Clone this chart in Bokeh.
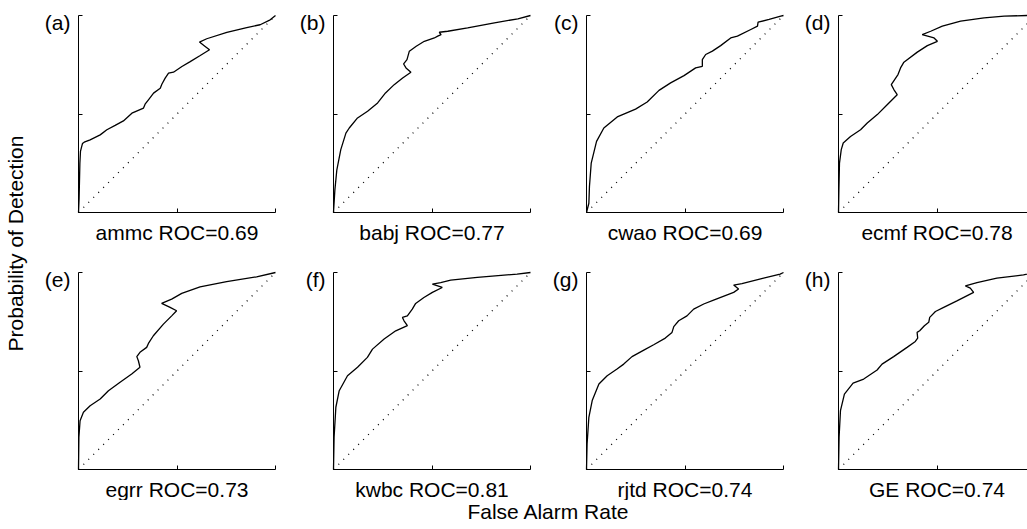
import math
from bokeh.plotting import figure
from bokeh.layouts import row, column
from bokeh.models import Range1d, Label, FixedTicker, CustomJSTickFormatter, LinearAxis
from bokeh.embed import file_html
from bokeh.resources import INLINE

FONT = "Liberation Sans"

# ---------------- data (false alarm rate, probability of detection) ----------------
centres = ["ammc", "babj", "cwao", "ecmf", "egrr", "kwbc", "rjtd", "GE"]
tags = ["(a)", "(b)", "(c)", "(d)", "(e)", "(f)", "(g)", "(h)"]
roc_scores = ["0.69", "0.77", "0.69", "0.78", "0.73", "0.81", "0.74", "0.74"]

ammc_far = [0, 0.003, 0.007, 0.01, 0.02, 0.029, 0.059, 0.11, 0.144, 0.186, 0.228, 0.271, 0.33, 0.338,
            0.355, 0.381, 0.415, 0.423, 0.44, 0.457, 0.482, 0.525, 0.567, 0.618, 0.665, 0.643, 0.614,
            0.651, 0.753, 0.854, 0.922, 0.973, 1.0]
ammc_pod = [0, 0.07, 0.25, 0.31, 0.35, 0.357, 0.369, 0.394, 0.42, 0.442, 0.465, 0.504, 0.53, 0.55,
            0.572, 0.606, 0.631, 0.651, 0.682, 0.707, 0.712, 0.741, 0.766, 0.797, 0.826, 0.843, 0.865,
            0.882, 0.914, 0.939, 0.953, 0.978, 1.0]

babj_far = [0, 0.007, 0.017, 0.037, 0.063, 0.08, 0.122, 0.173, 0.224, 0.264, 0.308, 0.351, 0.393,
            0.368, 0.356, 0.373, 0.385, 0.42, 0.461, 0.512, 0.529, 0.546, 0.537, 0.58, 0.681, 0.817,
            0.936, 1.0]
babj_pod = [0, 0.115, 0.217, 0.319, 0.403, 0.429, 0.48, 0.514, 0.556, 0.607, 0.649, 0.683, 0.712,
            0.734, 0.754, 0.776, 0.819, 0.844, 0.869, 0.886, 0.895, 0.903, 0.915, 0.92, 0.937, 0.963,
            0.983, 1.0]

cwao_far = [0, 0.012, 0.015, 0.024, 0.051, 0.088, 0.156, 0.249, 0.308, 0.368, 0.427, 0.495, 0.554,
            0.588, 0.588, 0.605, 0.639, 0.681, 0.732, 0.766, 0.834, 0.868, 0.871, 0.927, 0.986, 1.0]
cwao_pod = [0, 0.047, 0.132, 0.251, 0.361, 0.429, 0.485, 0.525, 0.561, 0.62, 0.658, 0.695, 0.734,
            0.742, 0.776, 0.802, 0.819, 0.847, 0.886, 0.895, 0.929, 0.946, 0.966, 0.98, 0.997, 1.0]

ecmf_far = [0, 0.002, 0.005, 0.014, 0.024, 0.061, 0.112, 0.146, 0.197, 0.247, 0.298, 0.281, 0.268,
            0.285, 0.302, 0.315, 0.332, 0.4, 0.451, 0.502, 0.485, 0.425, 0.468, 0.527, 0.62, 0.739,
            0.841, 0.959, 1.0]
ecmf_pod = [0, 0.115, 0.251, 0.319, 0.353, 0.386, 0.42, 0.454, 0.497, 0.547, 0.598, 0.624, 0.649,
            0.675, 0.7, 0.734, 0.763, 0.814, 0.847, 0.869, 0.886, 0.903, 0.92, 0.946, 0.971, 0.988,
            0.997, 1.0, 1.0]

egrr_far = [0, 0.002, 0.008, 0.025, 0.059, 0.11, 0.152, 0.211, 0.27, 0.312, 0.304, 0.296, 0.312,
            0.346, 0.355, 0.38, 0.431, 0.473, 0.498, 0.465, 0.422, 0.473, 0.524, 0.617, 0.752, 0.904, 1.0]
egrr_pod = [0, 0.164, 0.248, 0.291, 0.324, 0.358, 0.4, 0.443, 0.485, 0.519, 0.552, 0.573, 0.595,
            0.62, 0.64, 0.679, 0.738, 0.78, 0.806, 0.823, 0.843, 0.865, 0.894, 0.927, 0.954, 0.978, 1.0]

kwbc_far = [0, 0.003, 0.012, 0.029, 0.071, 0.122, 0.172, 0.198, 0.257, 0.316, 0.375, 0.358, 0.35,
            0.375, 0.4, 0.417, 0.459, 0.502, 0.552, 0.502, 0.544, 0.595, 0.73, 0.932, 1.0]
kwbc_pod = [0, 0.164, 0.316, 0.4, 0.476, 0.519, 0.569, 0.611, 0.662, 0.704, 0.73, 0.755, 0.772,
            0.78, 0.814, 0.843, 0.873, 0.899, 0.924, 0.941, 0.949, 0.961, 0.975, 0.992, 1.0]

rjtd_far = [0, 0.003, 0.012, 0.029, 0.063, 0.105, 0.155, 0.189, 0.231, 0.291, 0.341, 0.4, 0.434,
            0.443, 0.468, 0.51, 0.544, 0.595, 0.645, 0.747, 0.772, 0.747, 0.789, 0.899, 0.983, 1.0]
rjtd_pod = [0, 0.13, 0.265, 0.35, 0.434, 0.476, 0.51, 0.535, 0.573, 0.606, 0.633, 0.667, 0.696,
            0.725, 0.755, 0.78, 0.814, 0.84, 0.86, 0.899, 0.916, 0.936, 0.944, 0.971, 0.992, 1.0]

ge_far = [0, 0.003, 0.01, 0.03, 0.074, 0.128, 0.196, 0.221, 0.28, 0.348, 0.39, 0.402, 0.399, 0.412,
          0.436, 0.458, 0.463, 0.492, 0.534, 0.601, 0.686, 0.669, 0.644, 0.703, 0.804, 0.939, 1.0]
ge_pod = [0, 0.164, 0.299, 0.383, 0.438, 0.459, 0.505, 0.535, 0.573, 0.62, 0.65, 0.667, 0.696, 0.704,
          0.73, 0.747, 0.772, 0.802, 0.823, 0.856, 0.899, 0.921, 0.932, 0.949, 0.971, 0.988, 1.0]

no_skill = [0, 1]

curves = [(ammc_far, ammc_pod), (babj_far, babj_pod), (cwao_far, cwao_pod), (ecmf_far, ecmf_pod),
          (egrr_far, egrr_pod), (kwbc_far, kwbc_pod), (rjtd_far, rjtd_pod), (ge_far, ge_pod)]

# ---------------- layout geometry (px) ----------------
FRAME = 197          # size of the unit square in px
YLAB_W = 30
col_w = [255, 253, 252, 237]
row_h = [257, 243]
TOP_GAP = 15         # px above the unit square
LEFT_GAP = 48        # px left of the unit square
TOTAL_W = YLAB_W + sum(col_w)
FS = "21px"


def panel(i, width, height):
    x0 = -LEFT_GAP / FRAME
    x1 = (width - LEFT_GAP) / FRAME
    y1 = 1 + TOP_GAP / FRAME
    y0 = y1 - height / FRAME
    p = figure(frame_width=width, frame_height=height, min_border=0,
               x_range=Range1d(x0, x1), y_range=Range1d(y0, y1),
               x_axis_location=None, y_axis_location=None,
               output_backend="svg", toolbar_location=None)
    p.outline_line_color = None
    p.xgrid.visible = False
    p.ygrid.visible = False
    p.background_fill_color = "white"
    p.border_fill_color = "white"
    xa = LinearAxis(fixed_location=0, bounds=(0, 1))
    ya = LinearAxis(fixed_location=0, bounds=(0, 1))
    for ax in (xa, ya):
        ax.ticker = FixedTicker(ticks=[0, 0.5, 1])
        ax.formatter = CustomJSTickFormatter(code="return ''")
        ax.major_tick_in = 4
        ax.major_tick_out = 0
        ax.minor_tick_line_color = None
        ax.axis_line_color = "black"
        ax.axis_line_width = 1
        ax.major_tick_line_color = "black"
        ax.major_label_standoff = 0
    p.add_layout(xa, "below")
    p.add_layout(ya, "left")

    p.line(no_skill, no_skill, line_color="black", line_width=1.3, line_dash="1 6")
    far, pod = curves[i]
    p.line(far, pod, line_color="black", line_width=1.3)

    p.add_layout(Label(x=-8 / FRAME, y=1 - 7 / FRAME, text=tags[i], text_align="right",
                       text_baseline="middle", text_font=FONT, text_font_size=FS,
                       text_color="black"))
    p.add_layout(Label(x=0.5, y=-20 / FRAME, text=f"{centres[i]} ROC={roc_scores[i]}",
                       text_align="center", text_baseline="middle", text_font=FONT,
                       text_font_size=FS, text_color="black"))
    return p


rows = []
for r in range(2):
    figs = [panel(r * 4 + c, col_w[c], row_h[r]) for c in range(4)]
    rows.append(row(*figs))
grid = column(*rows)

YLAB_H = sum(row_h)
ylab = figure(width=YLAB_W, height=YLAB_H, x_range=Range1d(0, YLAB_W), y_range=Range1d(0, YLAB_H),
              x_axis_type=None, y_axis_type=None, output_backend="svg", toolbar_location=None,
              min_border=0)
ylab.outline_line_color = None
ylab.xgrid.visible = False
ylab.ygrid.visible = False
ylab.add_layout(Label(x=15, y=YLAB_H - 243, text="Probability of Detection", angle=math.pi / 2,
                      text_align="center", text_baseline="middle", text_font=FONT,
                      text_font_size=FS, text_color="black"))

XLAB_H = 28
xlab = figure(width=TOTAL_W, height=XLAB_H, x_range=Range1d(0, TOTAL_W), y_range=Range1d(0, XLAB_H),
              x_axis_type=None, y_axis_type=None, output_backend="svg", toolbar_location=None,
              min_border=0)
xlab.outline_line_color = None
xlab.xgrid.visible = False
xlab.ygrid.visible = False
xlab.add_layout(Label(x=548, y=XLAB_H - 11, text="False Alarm Rate", text_align="center",
                      text_baseline="middle", text_font=FONT, text_font_size=FS,
                      text_color="black"))

layout = column(row(ylab, grid), xlab)

open("out.html", "w").write(file_html(layout, INLINE))
